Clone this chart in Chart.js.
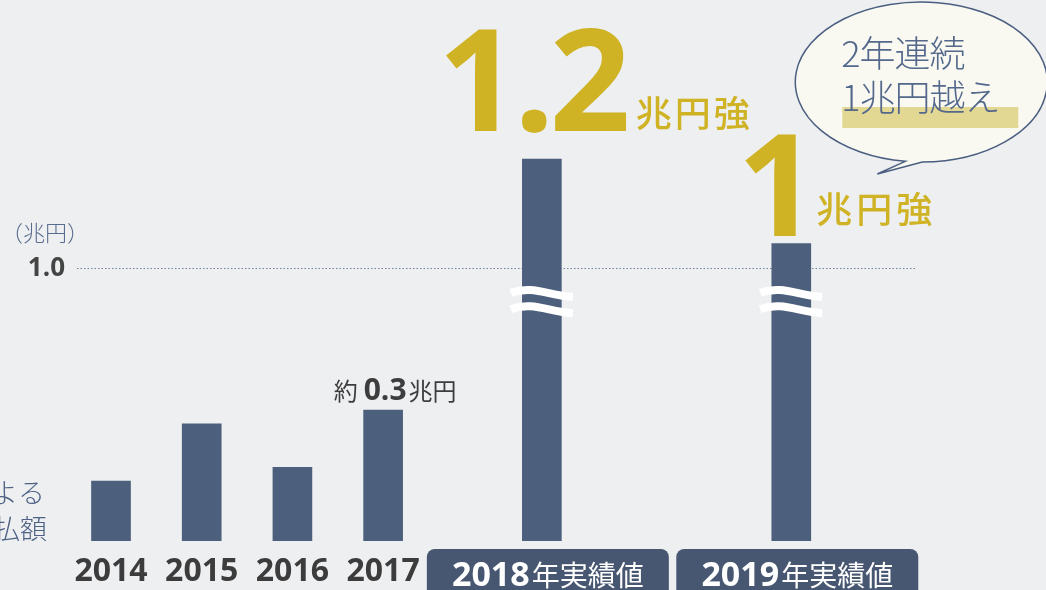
<!DOCTYPE html>
<html lang="ja">
<head>
<meta charset="utf-8">
<script src="https://cdn.jsdelivr.net/npm/chart.js@4.4.1/dist/chart.umd.min.js"></script>
<style>
  html, body { margin: 0; padding: 0; background: #eeeff1; }
</style>
</head>
<body>
<canvas id="myChart" width="1046" height="590"></canvas>
<script>
// data
const years = ['2014', '2015', '2016', '2017', '2018', '2019'];
const amounts = [0.22, 0.43, 0.27, 0.48, 1.40, 1.09];   // 兆円
const notes = ['', '', '', '0.3', '1.2', '1'];
const yTicks = [1.0];
const boxedYears = ['2018', '2019'];

// x layout: empty slots before each year (the axis is broken between 2017 and 2018)
const gapsBefore = [1, 3, 3, 3, 6, 10];
const slotCount = 37;

const labels = [];
const values = [];
years.forEach((y, i) => {
    for (let k = 0; k < gapsBefore[i]; k++) { labels.push(''); values.push(null); }
    labels.push(y);
    values.push(amounts[i]);
});
while (labels.length < slotCount) { labels.push(''); values.push(null); }

const SANS = '"Open Sans", "Noto Sans CJK JP", sans-serif';
const JP = '"Noto Sans CJK JP", sans-serif';
const GOLD = '#cfb325';
const SLATE = '#4d6285';

function barFor(chart, year) {
    const idx = labels.indexOf(year);
    return chart.getDatasetMeta(0).data[idx];
}

// draws "parts" left to right, each {text, font, dy}
function drawRun(ctx, parts, x, y) {
    parts.forEach(p => {
        ctx.font = p.font;
        ctx.letterSpacing = p.ls || '0px';
        ctx.fillText(p.text, x, y + (p.dy || 0));
        x += ctx.measureText(p.text).width + (p.gap || 0);
    });
}
function runWidth(ctx, parts) {
    let w = 0;
    parts.forEach(p => {
        ctx.font = p.font;
        ctx.letterSpacing = p.ls || '0px';
        w += ctx.measureText(p.text).width + (p.gap || 0);
    });
    return w;
}

const deco = {
    id: 'deco',
    beforeDraw(chart) {
        const ctx = chart.ctx;
        ctx.save();
        ctx.fillStyle = '#eeeff1';
        ctx.fillRect(0, 0, chart.width, chart.height);

        // unit
        ctx.fillStyle = '#5a6d8f';
        ctx.font = '300 22px ' + JP;
        ctx.textBaseline = 'alphabetic';
        ctx.textAlign = 'left';
        ctx.fillText('（兆円）', 1, 241);

        // title cut by the left edge
        ctx.fillStyle = SLATE;
        ctx.textAlign = 'right';
        ctx.font = '300 27px ' + JP;
        ctx.fillText('による', 45, 503);
        ctx.fillText('支払額', 47, 539);

        // boxed x labels
        ctx.textAlign = 'left';
        boxedYears.forEach(y => {
            const bar = barFor(chart, y);
            const bx = bar.x - 115;
            ctx.fillStyle = '#475771';
            ctx.beginPath();
            ctx.roundRect(bx, 549, 242, 56, 8);
            ctx.fill();
            const parts = [
                { text: y, font: 'bold 34px ' + SANS, gap: 2 },
                { text: '年実績値', font: '400 28px ' + JP }
            ];
            const w = runWidth(ctx, parts);
            ctx.fillStyle = '#ffffff';
            drawRun(ctx, parts, bx + 121 - w / 2, 586);
        });
        ctx.restore();
    },
    afterDatasetsDraw(chart) {
        const ctx = chart.ctx;
        const yScale = chart.scales.y;
        ctx.save();

        // break marks on the two tall bars
        ctx.strokeStyle = '#ffffff';
        ctx.lineWidth = 8;
        ctx.lineCap = 'butt';
        boxedYears.forEach(y => {
            const bar = barFor(chart, y);
            const x1 = bar.x - 31, x2 = bar.x + 31;
            [0.91, 0.85].forEach(v => {
                const yc = yScale.getPixelForValue(v);
                ctx.beginPath();
                ctx.moveTo(x1, yc);
                ctx.bezierCurveTo(x1 + 22, yc - 8, x2 - 24, yc + 3, x2, yc + 4);
                ctx.stroke();
            });
        });

        ctx.textAlign = 'left';
        ctx.textBaseline = 'alphabetic';

        // 約 0.3兆円
        const b17 = barFor(chart, '2017');
        let parts = [
            { text: '約', font: '400 24px ' + JP, gap: 6 },
            { text: notes[3], font: 'bold 30px ' + SANS, gap: 2 },
            { text: '兆円', font: '400 24px ' + JP }
        ];
        ctx.fillStyle = '#3d3d3d';
        drawRun(ctx, parts, b17.x + 12 - runWidth(ctx, parts) / 2, b17.y - 10);

        // 1.2兆円強
        ctx.fillStyle = GOLD;
        const b18 = barFor(chart, '2018');
        parts = [
            { text: notes[4], font: 'bold 142px ' + SANS, ls: '-5px', gap: 10 },
            { text: '兆円強', font: '500 36px ' + JP, ls: '3px', dy: -4 }
        ];
        drawRun(ctx, parts, b18.x - 104, b18.y - 28);

        // 1兆円強
        const b19 = barFor(chart, '2019');
        ctx.font = 'bold 142px ' + SANS;
        ctx.letterSpacing = '0px';
        ctx.textAlign = 'right';
        ctx.fillText(notes[5], b19.x + 27, b19.y - 8);
        ctx.textAlign = 'left';
        ctx.font = '500 36px ' + JP;
        ctx.letterSpacing = '4px';
        ctx.fillText('兆円強', b19.x + 25, b19.y - 21);
        ctx.restore();
    },
    afterDraw(chart) {
        const ctx = chart.ctx;
        const b19 = barFor(chart, '2019');
        const cx = b19.x + 130, cy = 82, rx = 126, ry = 80;
        const a1 = Math.acos(-16 / rx);
        const a2 = Math.acos(1 / rx) + Math.PI * 2;
        ctx.save();
        ctx.beginPath();
        ctx.ellipse(cx, cy, rx, ry, 0, a1, a2, false);
        ctx.lineTo(cx - 44, cy + 92);
        ctx.closePath();
        ctx.fillStyle = 'rgba(250, 249, 242, 0.9)';
        ctx.fill();
        ctx.strokeStyle = '#4a5e80';
        ctx.lineWidth = 1.5;
        ctx.stroke();

        ctx.fillStyle = 'rgba(214, 196, 96, 0.65)';
        ctx.fillRect(cx - 79, 107, 176, 21);

        ctx.fillStyle = '#53688b';
        ctx.font = '300 36px ' + JP;
        ctx.letterSpacing = '-1px';
        ctx.textAlign = 'left';
        ctx.fillText('2年連続', cx - 80, 67);
        ctx.fillText('1兆円越え', cx - 80, 111);
        ctx.restore();
    }
};

const ctx = document.getElementById('myChart');

new Chart(ctx, {
    type: 'bar',
    data: {
        labels: labels,
        datasets: [{
            label: 'amount',
            data: values,
            backgroundColor: '#4c5f7c',
            barThickness: 39,
            skipNull: true
        }]
    },
    options: {
        responsive: false,
        animation: false,
        layout: { padding: { left: 0, right: 130, top: 50, bottom: 0 } },
        plugins: {
            legend: { display: false },
            tooltip: { enabled: false }
        },
        scales: {
            x: {
                grid: { display: false },
                border: { display: false },
                ticks: {
                    autoSkip: false,
                    maxRotation: 0,
                    padding: 4,
                    color: '#3c3c3c',
                    font: { family: SANS, size: 32, weight: 'bold' },
                    callback: function (v) {
                        const l = this.getLabelForValue(v);
                        return boxedYears.includes(l) ? '' : l;
                    }
                },
                afterFit: s => { s.height = 49; }
            },
            y: {
                min: 0,
                max: 1.8,
                afterBuildTicks: s => { s.ticks = yTicks.map(v => ({ value: v })); },
                grid: { color: '#6f80a0', lineWidth: 1, drawTicks: false },
                border: { display: false, dash: [1.5, 2] },
                ticks: {
                    padding: 12,
                    color: '#444444',
                    font: { family: SANS, size: 26, weight: 'bold' },
                    callback: v => v.toFixed(1)
                },
                afterFit: s => { s.width = 77; }
            }
        }
    },
    plugins: [deco]
});
</script>
</body>
</html>
